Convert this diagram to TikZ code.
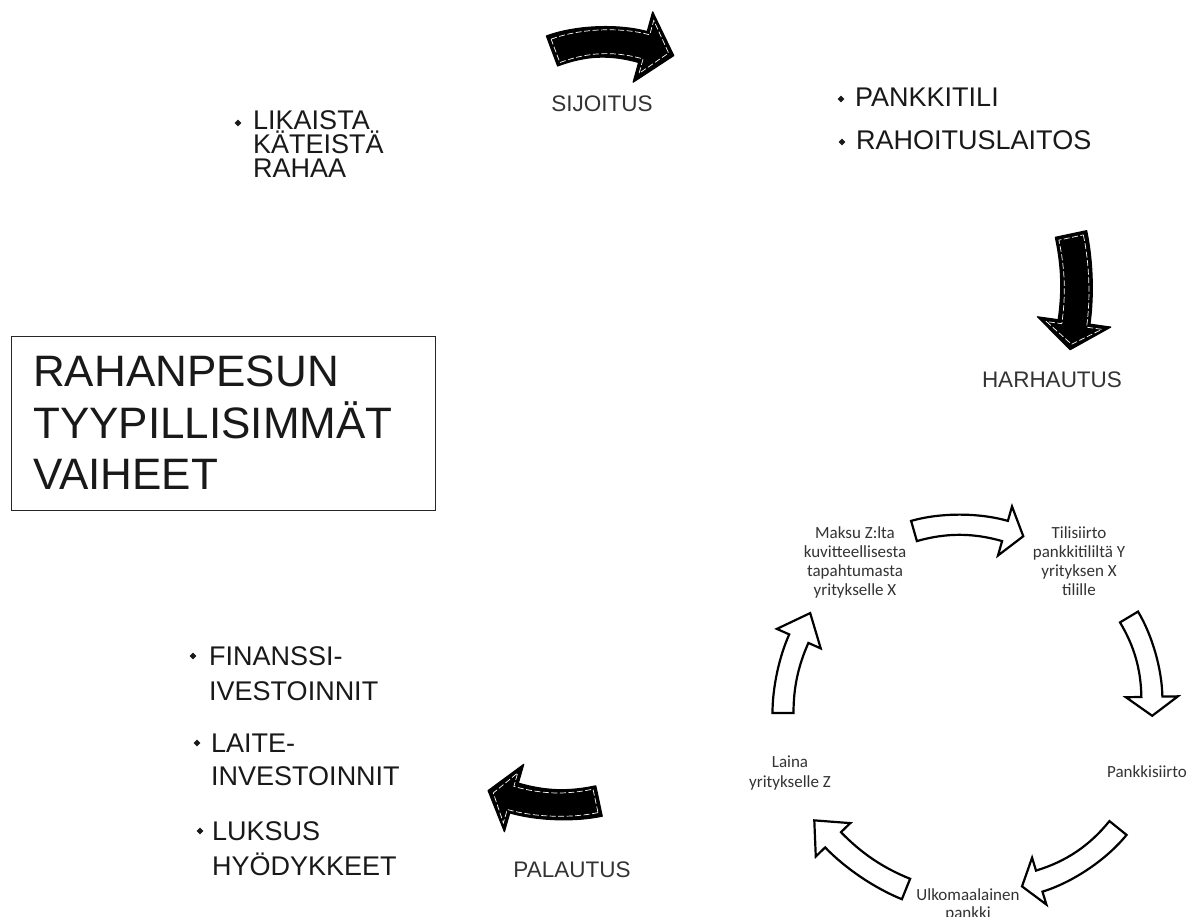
\documentclass[tikz,border=0pt]{standalone}
\usepackage{fontspec}
\setmainfont{Liberation Sans}
\newfontfamily\carl{Carlito}
\usetikzlibrary{shapes.geometric}
\newcommand{\Lstack}[2]{\vtop{\baselineskip=#1\lineskiplimit=-200pt\lineskip=0pt #2}}
\newcommand{\Cl}[1]{\hbox to 0pt{\hss#1\hss}}
% curved block arrow outline in local coordinates
% #1 style, #2 x0, #3 a (tail to head base), #4 shaft, #5 head width, #6 head length, #7 bend angle
\newcommand{\ApDraw}[7]{%
\path[#1]
 ({#2-sin(#7)*(#4)/2},{-cos(#7)*(#4)/2})
 .. controls ({#2-sin(#7)*(#4)/2+(#3)/3*cos(#7)},{-cos(#7)*(#4)/2-(#3)/3*sin(#7)})
 and ({#2+(#3)+sin(#7)*(#4)/2-(#3)/3*cos(#7)},{-cos(#7)*(#4)/2-(#3)/3*sin(#7)})
 .. ({#2+(#3)+sin(#7)*(#4)/2},{-cos(#7)*(#4)/2})
 -- ({#2+(#3)+sin(#7)*(#5)/2},{-cos(#7)*(#5)/2})
 -- ({#2+(#3)+(#6)*cos(#7)},{(#6)*sin(#7)})
 -- ({#2+(#3)-sin(#7)*(#5)/2},{cos(#7)*(#5)/2})
 -- ({#2+(#3)-sin(#7)*(#4)/2},{cos(#7)*(#4)/2})
 .. controls ({#2+(#3)-sin(#7)*(#4)/2-(#3)/3*cos(#7)},{cos(#7)*(#4)/2-(#3)/3*sin(#7)})
 and ({#2+sin(#7)*(#4)/2+(#3)/3*cos(#7)},{cos(#7)*(#4)/2-(#3)/3*sin(#7)})
 .. ({#2+sin(#7)*(#4)/2},{cos(#7)*(#4)/2})
 -- cycle;}
% #1 x, #2 y (tail centre), #3 direction, #4 a, #5 shaft, #6 head width, #7 head length, #8 bend
\newcommand{\whitearrow}[8]{%
\begin{scope}[shift={(#1,#2)},rotate=#3]
\ApDraw{wht}{0}{#4}{#5}{#6}{#7}{#8}
\end{scope}}
\newcommand{\blackarrow}[8]{%
\begin{scope}[shift={(#1,#2)},rotate=#3]
\ApDraw{blk}{0}{#4}{#5}{#6}{#7}{#8}
\ApDraw{stitch}{3.5}{#4}{#5-7}{#6-18}{#7-9}{#8}
\end{scope}}
\begin{document}
\begin{tikzpicture}[x=1pt,y=-1pt,
  bul/.style={diamond, fill=black!90, inner sep=0pt, minimum size=7pt},
  big/.style={font=\fontsize{27}{27}\selectfont, text=black!90, inner sep=0pt, anchor=base west},
  ttl/.style={font=\fontsize{44}{44}\selectfont, text=black!90, inner sep=0pt, anchor=base west},
  lab/.style={font=\fontsize{22.5}{22.5}\selectfont, text=black!80, inner sep=0pt, anchor=base},
  cyc/.style={font=\carl\fontsize{17}{17}\selectfont, text=black!80, inner sep=0pt, anchor=base},
  blk/.style={fill=black, draw=black, line width=1.2pt, line join=round},
  stitch/.style={draw=white, line width=0.7pt, dash pattern=on 6pt off 2.5pt},
  wht/.style={fill=white, draw=black, line width=2.2pt, line join=miter}]
\useasboundingbox (0,0) rectangle (1192,917);
\fill[white] (0,0) rectangle (1192,917);

% title box
\node[draw=black!85, line width=1pt, minimum width=424pt, minimum height=174pt, anchor=north west, inner sep=0pt] (titlebox) at (11,336) {};
\node[ttl] (title) at (33,387) {\Lstack{51.5pt}{\hbox{RAHANPESUN}\hbox{TYYPILLISIMMÄT}\hbox{VAIHEET}}};

% top-left bullet
\node[bul] (b1) at (238,123) {};
\node[big] (cash) at (253,130) {\Lstack{24pt}{\hbox{LIKAISTA}\hbox{KÄTEISTÄ}\hbox{RAHAA}}};

% top-right bullets
\node[bul] (b2) at (841,99) {};
\node[big] (bank) at (855,107) {PANKKITILI};
\node[bul] (b3) at (842,142) {};
\node[big] (inst) at (856,150) {RAHOITUSLAITOS};

% bottom-left bullets
\node[bul] (b4) at (193,656) {};
\node[big] (fin) at (209,665) {\Lstack{35pt}{\hbox{FINANSSI-}\hbox{IVESTOINNIT}}};
\node[bul] (b5) at (197,743) {};
\node[big] (lai) at (211,752) {\Lstack{33pt}{\hbox{LAITE-}\hbox{INVESTOINNIT}}};
\node[bul] (b6) at (200,831) {};
\node[big] (luk) at (212,840) {\Lstack{35pt}{\hbox{LUKSUS}\hbox{HYÖDYKKEET}}};

% phase labels
\node[lab] (sij) at (602,112) {SIJOITUS};
\node[lab] (har) at (1052,388) {HARHAUTUS};
\node[lab] (pal) at (572,877) {PALAUTUS};

% black phase arrows
\blackarrow{552}{51}{2.5}{91}{32}{73}{32}{18}
\blackarrow{1071}{234}{-88}{88}{32}{74}{28}{10}
\blackarrow{599}{801}{178}{85}{31}{70}{27}{14}

% cycle arrows
\whitearrow{914}{531}{0}{91}{21}{51}{19}{16}
\whitearrow{1129}{617}{-74}{83}{21}{52}{19}{15}
\whitearrow{1118}{828}{214}{95}{22}{49}{18}{17}
\whitearrow{906}{889}{146}{88}{22}{48}{27}{12}
\whitearrow{783}{713}{78}{76}{21}{48}{28}{12}

% cycle labels
\node[cyc] (maksu) at (855,538) {\Lstack{19pt}{\Cl{Maksu Z:lta}\Cl{kuvitteellisesta}\Cl{tapahtumasta}\Cl{yritykselle X}}};
\node[cyc] (tili) at (1079,538) {\Lstack{19pt}{\Cl{Tilisiirto}\Cl{pankkitililtä Y}\Cl{yrityksen X}\Cl{tilille}}};
\node[cyc] (psiirto) at (1147,777) {Pankkisiirto};
\node[cyc] (ulko) at (968,900) {\Lstack{18pt}{\Cl{Ulkomaalainen}\Cl{pankki}}};
\node[cyc] (laina) at (790,767) {\Lstack{20pt}{\Cl{Laina}\Cl{yritykselle Z}}};
\end{tikzpicture}
\end{document}
